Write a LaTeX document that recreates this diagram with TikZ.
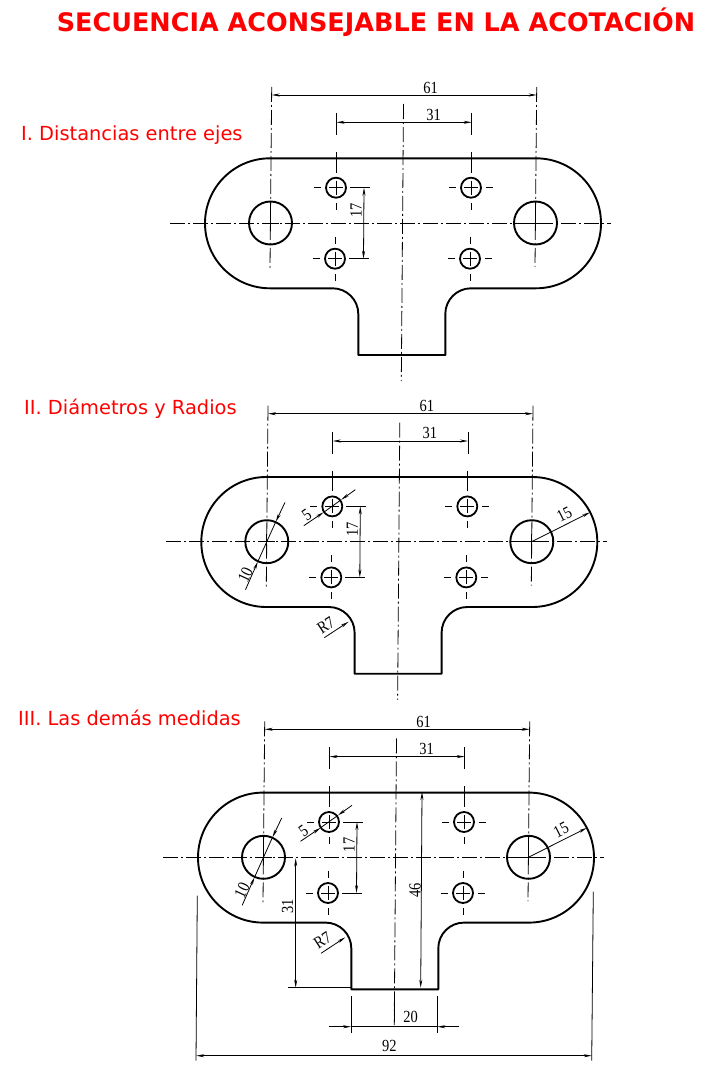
\documentclass[tikz,border=0pt]{standalone}
\usepackage{fontspec}
\usetikzlibrary{arrows.meta}
\setmainfont{DejaVu Sans}
\newfontfamily\dimfont[FakeStretch=0.85]{Liberation Serif}

\definecolor{headred}{RGB}{255,0,0}

\tikzset{
    outline/.style={line width=1.9pt, line join=round},
    thinline/.style={line width=0.8pt},
    axisline/.style={line width=0.8pt, dash pattern=on 15pt off 3pt on 2pt off 3pt},
    dimline/.style={line width=0.8pt, {Stealth[length=8pt,width=3pt]}-{Stealth[length=8pt,width=3pt]}},
    leaderline/.style={line width=0.8pt, -{Stealth[length=8pt,width=3pt]}},
    dimlabel/.style={font=\dimfont\fontsize{17}{17}\selectfont, inner sep=0pt},
    headlabel/.style={text=headred, font=\fontsize{19.4}{21}\selectfont, anchor=west, inner sep=0pt},
    pics/drillhole/.style={code={
        \draw[line width=1.8pt] (0,0) circle (10pt);
        \draw[thinline] (-7,0) -- (7,0) (0,-7) -- (0,7);
        \draw[thinline] (-22,0) -- (-15,0) (15,0) -- (22,0);
        \draw[thinline] (0,-22) -- (0,-15) (0,15) -- (0,22);
    }}
}

\begin{document}
\begin{tikzpicture}[x=1pt,y=-1pt]
    \useasboundingbox (0,0) rectangle (725,1089);

    % Title and headings
    \node[text=headred, font=\bfseries\fontsize{25.5}{27}\selectfont, inner sep=0pt] (title) at (376,22) {SECUENCIA ACONSEJABLE EN LA ACOTACIÓN};
    \node[headlabel] (headone) at (21,135) {I. Distancias entre ejes};
    \node[headlabel] (headtwo) at (24,409) {II. Diámetros y Radios};
    \node[headlabel] (headthree) at (18,718) {III. Las demás medidas};

    % The same plate three times
    \foreach \dx/\dy/\v in {0/0/a, -3.7/318.7/b, -7/634.3/c} {
    \begin{scope}[shift={(\dx,\dy)}]
        % Outline
        \draw[outline] (270,158.3) -- (536,158.3) arc (90:-90:65pt) -- (471,288.3)
            arc (90:180:25.7pt) -- (445.3,355) -- (358.3,355) -- (358.3,314)
            arc (0:90:25.7pt) -- (270,288.3) arc (-90:-270:65pt) -- cycle;

        % Axes
        \draw[axisline] (170,223) -- (611,223);
        \draw[axisline] (403.5,104) -- (401.3,381);
        \draw[axisline] (271.7,87) -- (270,268);
        \draw[axisline] (536.7,87) -- (535,267);

        % Holes
        \draw[outline] (270.5,223) circle (21.5pt);
        \draw[outline] (535.5,223) circle (21.5pt);
        \draw[thinline] (270.5,215) -- (270.5,231) (262.5,223) -- (278.5,223);
        \draw[thinline] (535.5,215) -- (535.5,231) (527.5,223) -- (543.5,223);
        \pic at (336,187.7) {drillhole};
        \pic at (471,187.7) {drillhole};
        \pic at (335,258.7) {drillhole};
        \pic at (470,258.7) {drillhole};

        % Dimension 61
        \coordinate (la\v) at (271.7,95);
        \coordinate (lb\v) at (536.7,95);
        \draw[dimline] (la\v) -- (lb\v);
        \node[dimlabel] (dimsixty\v) at (430.5,87.5) {61};

        % Dimension 31
        \draw[thinline] (336.5,113) -- (336.5,135) (336.2,152) -- (336.2,170);
        \draw[thinline] (471.7,113) -- (471.7,135) (471.4,152) -- (471.4,170);
        \coordinate (ma\v) at (336.5,122.3);
        \coordinate (mb\v) at (471.7,122.3);
        \draw[dimline] (ma\v) -- (mb\v);
        \node[dimlabel] (dimthirty\v) at (433.5,114.5) {31};

        % Dimension 17
        \draw[thinline] (350,187.7) -- (370,187.7) (349,258.7) -- (369,258.7);
        \coordinate (na\v) at (364,187.7);
        \coordinate (nb\v) at (363.5,258.7);
        \draw[dimline] (na\v) -- (nb\v);
        \node[dimlabel, rotate=90] (dimseventeen\v) at (356,210.5) {17};
    \end{scope}
    }

    % Diameters and radii, views II and III
    \foreach \dx/\dy/\v in {-3.7/318.7/b, -7/634.3/c} {
    \begin{scope}[shift={(\dx,\dy)}]
        \coordinate (fa\v) at (307.5,207);
        \coordinate (fb\v) at (327.5,193.5);
        \coordinate (fc\v) at (359,171);
        \coordinate (fd\v) at (345,181);
        \draw[leaderline] (fa\v) -- (fb\v);
        \draw[leaderline] (fc\v) -- (fd\v);
        \draw[thinline] (fb\v) -- (fd\v);
        \node[dimlabel, rotate=35] (dimfive\v) at (310.4,196.4) {5};

        \coordinate (ta\v) at (249.2,271);
        \coordinate (tb\v) at (261.5,243);
        \coordinate (tc\v) at (288.7,183.7);
        \coordinate (td\v) at (279.5,203);
        \draw[leaderline] (ta\v) -- (tb\v);
        \draw[leaderline] (tc\v) -- (td\v);
        \draw[thinline] (tb\v) -- (td\v);
        \node[dimlabel, rotate=65] (dimten\v) at (249,256) {10};

        \coordinate (ra\v) at (535.4,223);
        \coordinate (rb\v) at (593.8,193.6);
        \draw[leaderline] (ra\v) -- (rb\v);
        \node[dimlabel, rotate=27] (dimfifteen\v) at (568,195.5) {15};

        \coordinate (sa\v) at (328,319);
        \coordinate (sb\v) at (352.3,303);
        \draw[leaderline] (sa\v) -- (sb\v);
        \node[dimlabel, rotate=33] (dimseven\v) at (329.5,306.3) {R7};
    \end{scope}
    }

    % Remaining dimensions, view III
    \coordinate (ha) at (422,792);
    \coordinate (hb) at (420.7,987.7);
    \draw[dimline] (ha) -- (hb);
    \node[dimlabel, rotate=90] (dimfortysix) at (415,890) {46};

    \coordinate (ka) at (295.7,858.3);
    \coordinate (kb) at (295.7,987.7);
    \draw[dimline] (ka) -- (kb);
    \draw[thinline] (288.3,987.7) -- (351.7,987.7);
    \node[dimlabel, rotate=90] (dimthirtyone) at (287.7,906) {31};

    \draw[thinline] (351,996) -- (351,1032.7);
    \draw[thinline] (437.3,996) -- (437.3,1032.7);
    \draw[thinline] (394.6,1006) -- (394.3,1025);
    \coordinate (wa) at (329,1026.7);
    \coordinate (wb) at (351,1026.7);
    \coordinate (wc) at (437.3,1026.7);
    \coordinate (wd) at (459.3,1026.7);
    \draw[leaderline] (wa) -- (wb);
    \draw[leaderline] (wd) -- (wc);
    \draw[thinline] (wb) -- (wc);
    \node[dimlabel] (dimtwenty) at (410.7,1017.3) {20};

    \draw[thinline] (197.3,895.7) -- (196,1060.7);
    \draw[thinline] (593.3,891.7) -- (591.7,1060.7);
    \coordinate (xa) at (196.2,1055.7);
    \coordinate (xb) at (591.8,1055.7);
    \draw[dimline] (xa) -- (xb);
    \node[dimlabel] (dimninety) at (389.3,1046) {92};
\end{tikzpicture}
\end{document}
